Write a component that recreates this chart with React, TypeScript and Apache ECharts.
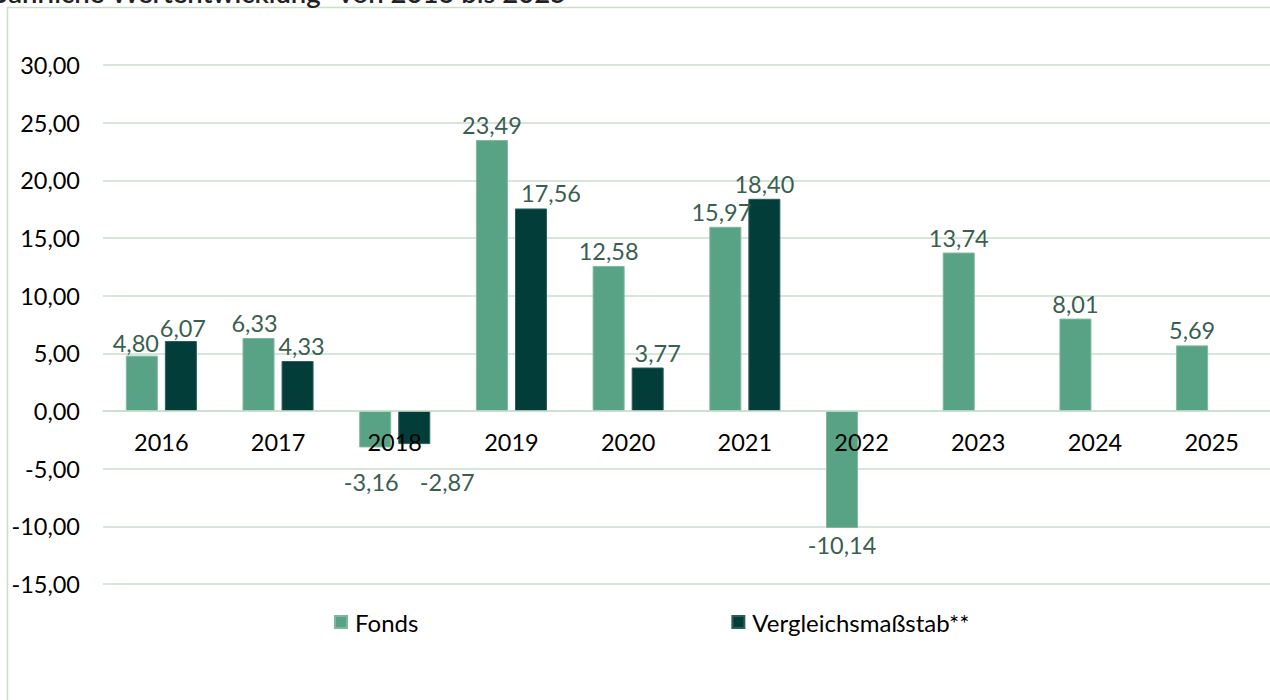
import React, { useEffect, useRef } from "react";
import * as echarts from "echarts";

const categories = ["2016", "2017", "2018", "2019", "2020", "2021", "2022", "2023", "2024", "2025"];
const fondsValues = [4.8, 6.33, -3.16, 23.49, 12.58, 15.97, -10.14, 13.74, 8.01, 5.69];
const benchmarkValues: (number | null)[] = [6.07, 4.33, -2.87, 17.56, 3.77, 18.4, null, null, null, null];
const seriesNames = ["Fonds", "Vergleichsmaßstab**"];
const titleText = "Jährliche Wertentwicklung* von 2016 bis 2025";
const yMin = -15;
const yMax = 30;
const yStep = 5;

const FONT = "Lato, 'Noto Sans', sans-serif";
const fmt = (v: number) => v.toFixed(2).replace(".", ",");

// label nudges (px) as seen in the reference
const fondsLabelShift: Record<string, [number, number]> = {
  "2016": [-6, 2],
  "2017": [-4, 0],
  "2018": [-4, 0],
  "2021": [-4, 0],
};
const benchLabelShift: Record<string, [number, number]> = {
  "2016": [2, 2],
  "2017": [4, 0],
  "2018": [33, 0],
  "2019": [20, 0],
  "2020": [10, 0],
};

export default function App() {
  const ref = useRef<HTMLDivElement>(null);
  useEffect(() => {
    if (!ref.current) return;
    const chart = echarts.init(ref.current, null, { renderer: "svg" });
    const labelColor = "#3a5f50";
    const gridTop = 65;
    const gridBottom = 116;
    const plotH = 700 - gridTop - gridBottom;
    const zeroOffset = -(plotH * (0 - yMin)) / (yMax - yMin);
    const fondsData = fondsValues.map((v, i) => {
      const item: any = { value: v };
      const cat = categories[i];
      const lbl: any = {};
      if (fondsLabelShift[cat]) lbl.offset = fondsLabelShift[cat];
      if (v < 0) {
        lbl.position = "bottom";
        lbl.distance = cat === "2018" ? 23 : 5;
      }
      if (Object.keys(lbl).length) item.label = lbl;
      return item;
    });
    const benchData = benchmarkValues.map((v, i) => {
      if (v === null) return "-";
      const item: any = { value: v };
      const cat = categories[i];
      const lbl: any = {};
      if (benchLabelShift[cat]) lbl.offset = benchLabelShift[cat];
      if (v < 0) {
        lbl.position = "bottom";
        lbl.distance = 26;
      }
      if (Object.keys(lbl).length) item.label = lbl;
      return item;
    });
    chart.setOption({
      animation: false,
      textStyle: { fontFamily: FONT },
      graphic: [
        {
          type: "rect",
          shape: { x: 7.5, y: 7.5, width: 1400, height: 900 },
          style: { fill: "none", stroke: "#c9dfcc", lineWidth: 1.5 },
          silent: true,
        },
        {
          type: "text",
          x: -3,
          y: 6,
          style: {
            text: titleText,
            font: `600 27.5px ${FONT}`,
            fill: "#222",
            verticalAlign: "bottom",
          },
        },
      ],
      grid: { left: 103, right: 0, top: gridTop, bottom: gridBottom },
      legend: {
        left: 334,
        top: 610,
        padding: 0,
        itemWidth: 12,
        itemHeight: 12,
        itemGap: 313,
        icon: "rect",
        textStyle: { fontSize: 24, color: "#000", fontFamily: FONT, padding: [0, 0, 0, 3] },
        data: seriesNames,
      },
      xAxis: {
        type: "category",
        data: categories,
        offset: zeroOffset,
        z: 5,
        axisLine: { show: true, onZero: false, lineStyle: { color: "#c9dfcc", width: 1.5 } },
        axisTick: { show: false },
        axisLabel: { fontSize: 23.5, color: "#000", margin: 19, fontFamily: FONT },
      },
      yAxis: {
        type: "value",
        min: yMin,
        max: yMax,
        interval: yStep,
        axisLine: { show: false },
        axisTick: { show: false },
        splitLine: { lineStyle: { color: "#c9dfcc", width: 1.5 } },
        axisLabel: { fontSize: 23.5, color: "#000", margin: 23, formatter: (v: number) => fmt(v), fontFamily: FONT },
      },
      series: [
        {
          name: seriesNames[0],
          type: "bar",
          data: fondsData,
          barWidth: 32,
          barGap: "22%",
          itemStyle: { color: "#58a385", borderColor: "#7fb89f", borderWidth: 1 },
          label: {
            show: true,
            position: "top",
            distance: 3,
            fontSize: 23.5,
            color: labelColor,
            fontFamily: FONT,
            formatter: (p: any) => fmt(p.value),
          },
        },
        {
          name: seriesNames[1],
          type: "bar",
          data: benchData,
          barWidth: 32,
          itemStyle: { color: "#033d3a", borderColor: "#2d5e58", borderWidth: 1 },
          label: {
            show: true,
            position: "top",
            distance: 3,
            fontSize: 23.5,
            color: labelColor,
            fontFamily: FONT,
            formatter: (p: any) => fmt(p.value),
          },
        },
      ],
    });
    return () => chart.dispose();
  }, []);
  return (
    <div
      ref={ref}
      style={{ position: "fixed", left: 0, top: 0, width: 1270, height: 700, background: "#fff" }}
    />
  );
}
